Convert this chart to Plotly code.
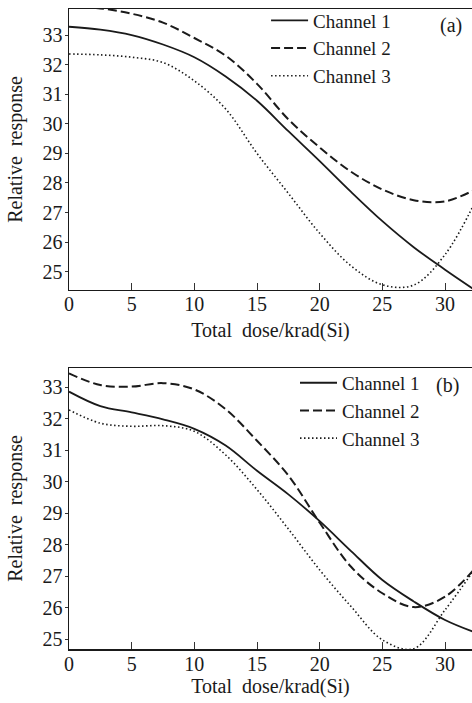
import plotly.graph_objects as go

# ---------------- data ----------------
dose = [0, 2.5, 5, 7.5, 10, 12.5, 15, 17.5, 20, 22.5, 25, 27.5, 30, 32.5]

# panel (a)
a_ch1 = [33.28, 33.18, 33.00, 32.68, 32.25, 31.60, 30.78, 29.75, 28.74, 27.70, 26.71, 25.83, 25.07, 24.35]
a_ch2 = [33.95, 33.90, 33.72, 33.42, 32.90, 32.30, 31.35, 30.15, 29.20, 28.38, 27.78, 27.42, 27.38, 27.80]
a_ch3 = [32.36, 32.33, 32.25, 32.07, 31.45, 30.50, 29.00, 27.65, 26.30, 25.20, 24.56, 24.55, 25.58, 27.45]

# panel (b)
b_ch1 = [32.86, 32.40, 32.20, 31.98, 31.68, 31.15, 30.35, 29.60, 28.75, 27.80, 26.88, 26.20, 25.61, 25.20]
b_ch2 = [33.44, 33.07, 33.02, 33.13, 32.93, 32.30, 31.30, 30.20, 28.70, 27.30, 26.46, 26.02, 26.35, 27.30]
b_ch3 = [32.28, 31.86, 31.76, 31.78, 31.60, 30.85, 29.75, 28.50, 27.20, 26.04, 24.98, 24.70, 25.93, 27.30]

series_names = ["Channel 1", "Channel 2", "Channel 3"]
x_ticks = [0, 5, 10, 15, 20, 25, 30]
y_ticks = [25, 26, 27, 28, 29, 30, 31, 32, 33]
x_title = "Total  dose/krad(Si)"
y_title = "Relative  response"
panel_labels = ["(a)", "(b)"]

# ---------------- styles ----------------
FONT = '"Liberation Serif", "Times New Roman", Times, serif'
INK = "#1a1a1a"
styles = [dict(color=INK, width=1.8, dash="solid"),
          dict(color=INK, width=2.0, dash="9px,4px"),
          dict(color=INK, width=1.6, dash="1.5px,2.5px")]

fig = go.Figure()

for vals, name, st in zip([a_ch1, a_ch2, a_ch3], series_names, styles):
    fig.add_trace(go.Scatter(x=dose, y=vals, name=name, mode="lines",
                             line=dict(shape="spline", smoothing=1.0, **st),
                             xaxis="x", yaxis="y", legend="legend"))
for vals, name, st in zip([b_ch1, b_ch2, b_ch3], series_names, styles):
    fig.add_trace(go.Scatter(x=dose, y=vals, name=name, mode="lines",
                             line=dict(shape="spline", smoothing=1.0, **st),
                             xaxis="x2", yaxis="y2", legend="legend2"))


def xaxis_style(standoff):
    return dict(range=[0, 32.15], tickvals=x_ticks, ticks="inside", ticklen=7,
                tickcolor="#333", showline=True, linecolor=INK, linewidth=1.5,
                mirror=True, showgrid=False, zeroline=False,
                ticklabelstandoff=-4,
                tickfont=dict(family=FONT, size=20, color=INK),
                title=dict(text=x_title, font=dict(family=FONT, size=20, color=INK),
                           standoff=standoff))


ycommon = dict(tickvals=y_ticks, ticks="outside", ticklen=3, tickcolor="#333",
               showline=True, linecolor=INK, linewidth=1.5,
               showgrid=False, zeroline=False, ticklabelstandoff=-2,
               tickfont=dict(family=FONT, size=20, color=INK),
               title=dict(text=y_title, font=dict(family=FONT, size=20, color=INK),
                          standoff=14))

leg_common = dict(font=dict(family=FONT, size=19, color=INK),
                  bgcolor="rgba(0,0,0,0)", borderwidth=0, xanchor="left",
                  yanchor="top", itemwidth=37, tracegroupgap=0)

fig.update_layout(
    width=472, height=703,
    margin=dict(l=69, r=0, t=9, b=54),
    paper_bgcolor="white", plot_bgcolor="white",
    font=dict(family=FONT, color=INK),
    showlegend=True,
    xaxis=dict(domain=[0, 1], anchor="y", **xaxis_style(8)),
    yaxis=dict(domain=[0.561, 1], anchor="x", range=[24.385, 33.88], **ycommon),
    xaxis2=dict(domain=[0, 1], anchor="y2", **xaxis_style(1)),
    yaxis2=dict(domain=[0, 0.439], anchor="x2", range=[24.69, 33.61], **ycommon),
    legend=dict(x=0.489, y=1.0117, **leg_common),
    legend2=dict(x=0.5608, y=0.4455, **leg_common),
    annotations=[
        dict(text=panel_labels[0], x=0.948, y=0.975, xref="paper", yref="paper",
             xanchor="center", yanchor="middle",
             showarrow=False, font=dict(family=FONT, size=20, color=INK)),
        dict(text=panel_labels[1], x=0.94, y=0.4125, xref="paper", yref="paper",
             xanchor="center", yanchor="middle",
             showarrow=False, font=dict(family=FONT, size=20, color=INK)),
    ],
)

fig.write_html("out.html", config={"displayModeBar": False, "staticPlot": True})

# remove the default page margin so the 472x703 figure fits the window exactly
with open("out.html", "r", encoding="utf-8") as f:
    html = f.read()
html = html.replace("<head>", "<head><style>html,body{margin:0;padding:0;overflow:hidden;}</style>", 1)
with open("out.html", "w", encoding="utf-8") as f:
    f.write(html)
